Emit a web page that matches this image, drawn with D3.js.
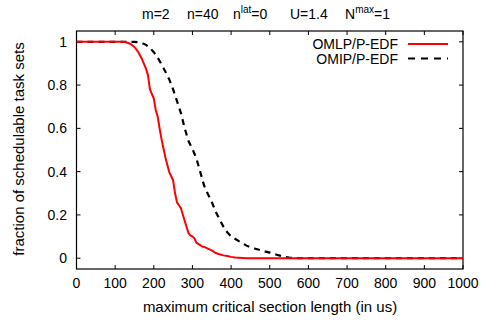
<!DOCTYPE html>
<html>
<head>
<meta charset="utf-8">
<script src="https://cdn.jsdelivr.net/npm/d3@7"></script>
<style>
  html, body { margin: 0; padding: 0; background: #fff; }
  svg { display: block; font-family: "Liberation Sans", Arial, Helvetica, sans-serif; }
</style>
</head>
<body>
<svg id="chart" width="489" height="324"></svg>
<script>
// Critical section length (us) at which each curve was sampled
const lengthsOMLP = [0, 100, 120, 130, 140, 150, 160, 170, 180, 185, 190, 200, 205, 210, 215, 220, 230, 240, 250, 255, 260, 270, 280, 290, 295, 300, 305, 310, 320, 325, 330, 340, 350, 360, 370, 380, 390, 400, 410, 420, 430, 440, 1000];
const valuesOMLP = [1, 1, 1, 0.997, 0.99, 0.976, 0.952, 0.918, 0.875, 0.845, 0.78, 0.738, 0.685, 0.655, 0.60, 0.55, 0.465, 0.398, 0.36, 0.30, 0.258, 0.232, 0.172, 0.115, 0.105, 0.100, 0.092, 0.072, 0.060, 0.054, 0.052, 0.044, 0.036, 0.024, 0.018, 0.013, 0.010, 0.006, 0.003, 0.002, 0.001, 0, 0];

const lengthsOMIP = [0, 100, 150, 160, 170, 180, 190, 200, 210, 220, 230, 240, 250, 260, 270, 280, 290, 300, 310, 320, 330, 340, 350, 360, 370, 380, 390, 400, 410, 420, 430, 440, 450, 460, 470, 480, 490, 500, 510, 520, 530, 540, 550, 560, 570, 1000];
const valuesOMIP = [1, 1, 1, 0.998, 0.994, 0.986, 0.972, 0.952, 0.927, 0.896, 0.862, 0.826, 0.78, 0.726, 0.672, 0.60, 0.54, 0.505, 0.462, 0.40, 0.336, 0.296, 0.26, 0.215, 0.18, 0.146, 0.12, 0.10, 0.09, 0.079, 0.069, 0.058, 0.05, 0.045, 0.040, 0.035, 0.030, 0.026, 0.020, 0.015, 0.010, 0.006, 0.003, 0.001, 0, 0];

const xTicks = [0, 100, 200, 300, 400, 500, 600, 700, 800, 900, 1000];
const yTicks = [0, 0.2, 0.4, 0.6, 0.8, 1];
const seriesNames = ["OMLP/P-EDF", "OMIP/P-EDF"];

const svg = d3.select("#chart");
const plotLeft = 76.5, plotRight = 463, plotTop = 31, plotBottom = 269;

const x = d3.scaleLinear().domain([0, 1000]).range([plotLeft, plotRight]);
const y = d3.scaleLinear().domain([-0.05, 1.05]).range([plotBottom, plotTop]);

const fontSize = 14;
const labelSize = 15;

// Title with superscripts
function titlePart(xPos, base, sup, rest) {
  const t = svg.append("text").attr("x", xPos).attr("y", 19).attr("font-size", fontSize);
  t.append("tspan").text(base);
  if (sup) {
    t.append("tspan").attr("font-size", 10).attr("dy", -6).text(sup);
    t.append("tspan").attr("dy", 6).text(rest);
  }
}
titlePart(142, "m=2");
titlePart(187, "n=40");
titlePart(233, "n", "lat", "=0");
titlePart(290, "U=1.4");
titlePart(345, "N", "max", "=1");

// Plot frame
svg.append("rect")
  .attr("x", plotLeft).attr("y", plotTop)
  .attr("width", plotRight - plotLeft).attr("height", plotBottom - plotTop)
  .attr("fill", "none").attr("stroke", "#000").attr("stroke-width", 1.2);

// Inward ticks on all four sides
const tickLen = 4;
const tg = svg.append("g").attr("stroke", "#000").attr("stroke-width", 1);
xTicks.forEach(v => {
  const px = x(v);
  tg.append("line").attr("x1", px).attr("x2", px).attr("y1", plotBottom).attr("y2", plotBottom - tickLen);
  tg.append("line").attr("x1", px).attr("x2", px).attr("y1", plotTop).attr("y2", plotTop + tickLen);
});
yTicks.forEach(v => {
  const py = y(v);
  tg.append("line").attr("x1", plotLeft).attr("x2", plotLeft + tickLen).attr("y1", py).attr("y2", py);
  tg.append("line").attr("x1", plotRight).attr("x2", plotRight - tickLen).attr("y1", py).attr("y2", py);
});

// Tick labels
svg.append("g").selectAll("text").data(xTicks).join("text")
  .attr("x", d => x(d)).attr("y", 288)
  .attr("text-anchor", "middle").attr("font-size", fontSize)
  .text(d => d);
svg.append("g").selectAll("text").data(yTicks).join("text")
  .attr("x", 67).attr("y", d => y(d) + 5)
  .attr("text-anchor", "end").attr("font-size", fontSize)
  .text(d => d3.format("~g")(d));

// Axis titles
svg.append("text")
  .attr("x", 270).attr("y", 312)
  .attr("text-anchor", "middle").attr("font-size", labelSize)
  .text("maximum critical section length (in us)");
svg.append("text")
  .attr("transform", "translate(24,149) rotate(-90)")
  .attr("text-anchor", "middle").attr("font-size", labelSize)
  .text("fraction of schedulable task sets");

// Curves
const line = d3.line().x(d => x(d[0])).y(d => y(d[1]));
svg.append("path")
  .datum(lengthsOMIP.map((v, i) => [v, valuesOMIP[i]]))
  .attr("d", line).attr("fill", "none")
  .attr("stroke", "#000").attr("stroke-width", 2.2)
  .attr("stroke-dasharray", "6,5");
svg.append("path")
  .datum(lengthsOMLP.map((v, i) => [v, valuesOMLP[i]]))
  .attr("d", line).attr("fill", "none")
  .attr("stroke", "#ff0000").attr("stroke-width", 2)
  .attr("stroke-linejoin", "round");

// Legend
const legend = svg.append("g");
const legendStyles = [
  { stroke: "#ff0000", dash: null },
  { stroke: "#000", dash: "7,6" }
];
seriesNames.forEach((name, i) => {
  const ly = 44 + i * 14.5;
  legend.append("text")
    .attr("x", 398).attr("y", ly + 5)
    .attr("text-anchor", "end").attr("font-size", fontSize)
    .text(name);
  legend.append("line")
    .attr("x1", 408).attr("x2", 448).attr("y1", ly).attr("y2", ly)
    .attr("stroke", legendStyles[i].stroke).attr("stroke-width", 2.2)
    .attr("stroke-dasharray", legendStyles[i].dash);
});
</script>
</body>
</html>
